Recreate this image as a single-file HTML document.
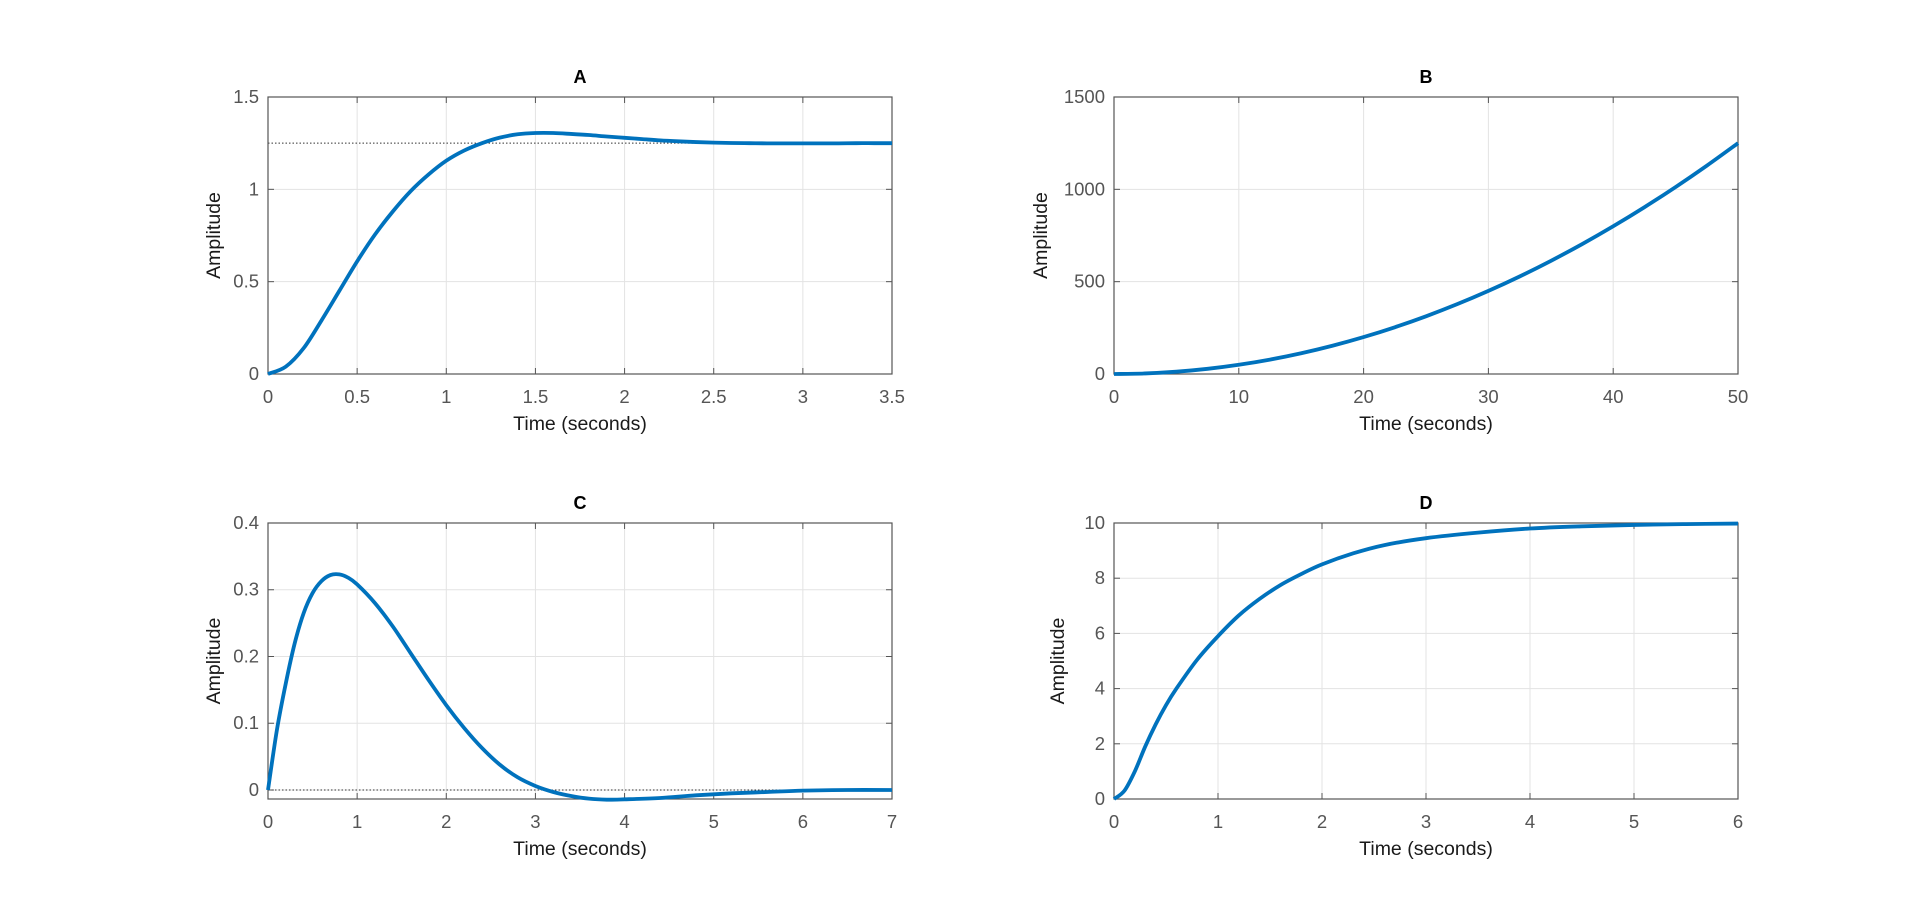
<!DOCTYPE html>
<html><head><meta charset="utf-8"><style>
body{margin:0;background:#fff;}
svg{display:block;font-family:"Liberation Sans",Arial,sans-serif;}
</style></head><body>
<svg id="fig" width="1920" height="899" viewBox="0 0 1920 899"></svg>
<script>
const tA=[0,.1,.2,.3,.4,.5,.6,.7,.8,.9,1,1.1,1.2,1.3,1.4,1.5,1.6,1.7,1.8,1.9,2,2.1,2.2,2.3,2.4,2.5,2.6,2.7,2.8,2.9,3,3.1,3.2,3.3,3.4,3.5];
const yA=[0,.04,.14,.29,.45,.61,.755,.88,.99,1.08,1.155,1.21,1.25,1.28,1.298,1.305,1.305,1.3,1.294,1.286,1.279,1.272,1.265,1.26,1.256,1.253,1.251,1.25,1.249,1.249,1.249,1.249,1.249,1.25,1.25,1.25];
const tB=[0,2.5,5,7.5,10,12.5,15,17.5,20,22.5,25,27.5,30,32.5,35,37.5,40,42.5,45,47.5,50];
const yB=[0,3.1,12.5,28.1,50,78.1,112.5,153.1,200,253.1,312.5,378.1,450,528.1,612.5,703.1,800,903.1,1012.5,1128.1,1250];
const tC=[0,.1,.2,.3,.4,.5,.6,.7,.8,.9,1,1.2,1.4,1.6,1.8,2,2.2,2.4,2.6,2.8,3,3.2,3.4,3.6,3.8,4,4.4,4.8,5.2,5.6,6,6.5,7];
const yC=[0,.09,.16,.22,.265,.295,.313,.322,.323,.318,.308,.28,.245,.205,.165,.127,.093,.063,.038,.019,.006,-.003,-.009,-.013,-.0145,-.014,-.012,-.008,-.005,-.003,-.001,0,0];
const tD=[0,.1,.2,.3,.4,.5,.6,.8,1,1.2,1.4,1.6,1.8,2,2.3,2.6,3,3.5,4,4.5,5,5.5,6];
const yD=[0,.3,1,1.9,2.7,3.4,4,5.05,5.9,6.65,7.25,7.75,8.15,8.5,8.9,9.2,9.45,9.65,9.8,9.88,9.93,9.96,9.98];
const xticksA=[0,.5,1,1.5,2,2.5,3,3.5], yticksA=[0,.5,1,1.5];
const xticksB=[0,10,20,30,40,50], yticksB=[0,500,1000,1500];
const xticksC=[0,1,2,3,4,5,6,7], yticksC=[0,.1,.2,.3,.4];
const xticksD=[0,1,2,3,4,5,6], yticksD=[0,2,4,6,8,10];

const NS="http://www.w3.org/2000/svg", fig=document.getElementById('fig');
function mk(tag,attrs,parent,text){const e=document.createElementNS(NS,tag);for(const k in attrs)e.setAttribute(k,attrs[k]);if(text!==undefined)e.textContent=text;parent.appendChild(e);return e;}
function smooth(pts){let d=`M${pts[0][0]},${pts[0][1]}`;for(let i=0;i<pts.length-1;i++){const p0=pts[Math.max(i-1,0)],p1=pts[i],p2=pts[i+1],p3=pts[Math.min(i+2,pts.length-1)];
d+=` C${p1[0]+(p2[0]-p0[0])/6},${p1[1]+(p2[1]-p0[1])/6} ${p2[0]-(p3[0]-p1[0])/6},${p2[1]-(p3[1]-p1[1])/6} ${p2[0]},${p2[1]}`;}return d;}

function panel(o){
 const g=mk('g',{},fig);
 
 
 const sx=v=>o.x0+(v-o.xmin)/(o.xmax-o.xmin)*(o.x1-o.x0);
 const sy=v=>o.y1-(v-o.ymin)/(o.ymax-o.ymin)*(o.y1-o.y0);
 o.xt.forEach(v=>{const gl=mk('line',{x1:sx(v),x2:sx(v),y1:o.y0,y2:o.y1,stroke:'#e3e3e3','stroke-width':1},g);
  
  mk('line',{x1:sx(v),x2:sx(v),y1:o.y1,y2:o.y1-6,stroke:'#555'},g);mk('line',{x1:sx(v),x2:sx(v),y1:o.y0,y2:o.y0+6,stroke:'#555'},g);
  const t=mk('text',{x:sx(v),y:o.y1+29,'text-anchor':'middle','font-size':18.5,fill:'#555'},g,String(v));
  });
 o.yt.forEach(v=>{const gl=mk('line',{x1:o.x0,x2:o.x1,y1:sy(v),y2:sy(v),stroke:'#e3e3e3','stroke-width':1},g);
  
  mk('line',{x1:o.x0,x2:o.x0+6,y1:sy(v),y2:sy(v),stroke:'#555'},g);mk('line',{x1:o.x1,x2:o.x1-6,y1:sy(v),y2:sy(v),stroke:'#555'},g);
  const t=mk('text',{x:o.x0-9,y:sy(v)+6,'text-anchor':'end','font-size':18.5,fill:'#555'},g,String(v));
  });
 if(o.ref!==null){const r=mk('line',{x1:o.x0,x2:o.x1,y1:sy(o.ref),y2:sy(o.ref),stroke:'#333','stroke-width':1,'stroke-dasharray':'1.5 2'},g);
  }
 const box=mk('rect',{x:o.x0,y:o.y0,width:o.x1-o.x0,height:o.y1-o.y0,fill:'none',stroke:'#555','stroke-width':1.2},g);
 
 const pts=o.t.map((t,i)=>[sx(t),sy(o.y[i])]);
 const p=mk('path',{d:smooth(pts),fill:'none',stroke:'#0072BD','stroke-width':3.8,'stroke-linejoin':'round'},g);
 
 const ti=mk('text',{x:(o.x0+o.x1)/2,y:o.y0-14,'text-anchor':'middle','font-size':18,'font-weight':'bold',fill:'#000'},g,o.title);
 
 const xl=mk('text',{x:(o.x0+o.x1)/2,y:o.y1+56,'text-anchor':'middle','font-size':19.5,fill:'#1a1a1a'},g,'Time (seconds)');
 
 const yl=mk('text',{x:0,y:0,'text-anchor':'middle','font-size':19.5,fill:'#1a1a1a',transform:`translate(${o.ylx},${(o.y0+o.y1)/2}) rotate(-90)`},g,'Amplitude');
 
}
panel({title:'A',x0:268,x1:892,y0:97,y1:374,xmin:0,xmax:3.5,ymin:0,ymax:1.5,xt:xticksA,yt:yticksA,t:tA,y:yA,ref:1.25,ylx:220});
panel({title:'B',x0:1114,x1:1738,y0:97,y1:374,xmin:0,xmax:50,ymin:0,ymax:1500,xt:xticksB,yt:yticksB,t:tB,y:yB,ref:null,ylx:1047});
panel({title:'C',x0:268,x1:892,y0:523,y1:799,xmin:0,xmax:7,ymin:-0.0135,ymax:0.4,xt:xticksC,yt:yticksC,t:tC,y:yC,ref:0,ylx:220});
panel({title:'D',x0:1114,x1:1738,y0:523,y1:799,xmin:0,xmax:6,ymin:0,ymax:10,xt:xticksD,yt:yticksD,t:tD,y:yD,ref:10,ylx:1064});
</script>
</body></html>
